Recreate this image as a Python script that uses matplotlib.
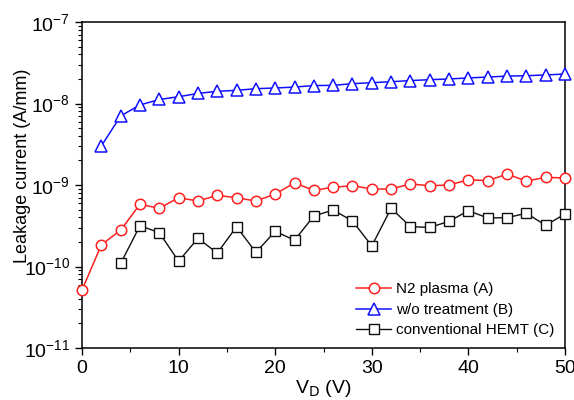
import matplotlib.pyplot as plt
import numpy as np
from matplotlib.ticker import LogLocator, MultipleLocator, NullFormatter

plt.rcParams['font.family'] = ['Liberation Sans', 'DejaVu Sans']

# N2 plasma (A), 0..50 V
vd_a = np.arange(0, 51, 2)
i_a = [5.15e-11, 1.84e-10, 2.8e-10, 5.8e-10, 5.18e-10, 6.98e-10, 6.36e-10, 7.47e-10,
       6.98e-10, 6.36e-10, 7.76e-10, 1.06e-9, 8.6e-10, 9.37e-10, 9.8e-10, 8.93e-10,
       8.93e-10, 1.03e-9, 9.8e-10, 1.0e-9, 1.16e-9, 1.13e-9, 1.36e-9, 1.12e-9,
       1.24e-9, 1.22e-9]

# w/o treatment (B), 2..50 V
vd_b = np.arange(2, 51, 2)
i_b = [3.01e-9, 7.03e-9, 9.6e-9, 1.12e-8, 1.21e-8, 1.33e-8, 1.41e-8, 1.45e-8,
       1.52e-8, 1.55e-8, 1.59e-8, 1.66e-8, 1.67e-8, 1.75e-8, 1.80e-8, 1.85e-8,
       1.91e-8, 1.96e-8, 2.0e-8, 2.06e-8, 2.11e-8, 2.17e-8, 2.19e-8, 2.24e-8, 2.30e-8]

# conventional HEMT (C), 4..50 V
vd_c = np.arange(4, 51, 2)
i_c = [1.09e-10, 3.17e-10, 2.6e-10, 1.16e-10, 2.22e-10, 1.46e-10, 3.08e-10, 1.49e-10,
       2.70e-10, 2.1e-10, 4.17e-10, 4.93e-10, 3.62e-10, 1.79e-10, 5.18e-10, 3.08e-10,
       3.02e-10, 3.58e-10, 4.84e-10, 3.94e-10, 3.97e-10, 4.5e-10, 3.2e-10, 4.41e-10]

fig = plt.figure(figsize=(5.74, 4.0), dpi=100)
ax = fig.add_axes([0.1429, 0.13, 0.8414, 0.815])

ax.plot(vd_a, i_a, '-o', color='#ff2020', mfc='white', mec='#ff2020', ms=7.5, lw=1.1,
        mew=1.1, label='N2 plasma (A)', clip_on=False, zorder=3)
ax.plot(vd_b, i_b, '-^', color='#1010ff', mfc='white', mec='#1010ff', ms=8.5, lw=1.1,
        mew=1.1, label='w/o treatment (B)', clip_on=False, zorder=3)
ax.plot(vd_c, i_c, '-s', color='#101010', mfc='white', mec='#101010', ms=7, lw=1.0,
        mew=1.0, label='conventional HEMT (C)', clip_on=False, zorder=3)

ax.set_yscale('log')
ax.set_xlim(0, 50)
ax.set_ylim(1e-11, 1e-7)
ax.xaxis.set_major_locator(MultipleLocator(10))
ax.xaxis.set_minor_locator(MultipleLocator(5))
ax.yaxis.set_major_locator(LogLocator(base=10, numticks=10))
ax.yaxis.set_minor_locator(LogLocator(base=10, subs=np.arange(2, 10), numticks=10))
ax.yaxis.set_minor_formatter(NullFormatter())
ax.tick_params(which='both', direction='out', top=False, right=False, labelsize=14)
ax.tick_params(which='major', length=5, width=1)
ax.tick_params(which='minor', length=3, width=0.8)
for s in ax.spines.values():
    s.set_linewidth(1.1)

ax.set_xlabel(r'V$_\mathrm{D}$ (V)', fontsize=14, labelpad=1)
ax.set_ylabel('Leakage current (A/mm)', fontsize=13)
ax.yaxis.set_label_coords(-0.105, 0.56)

ax.legend(loc='lower right', fontsize=11, frameon=False, handlelength=2.3,
          handletextpad=0.3, labelspacing=0.42, borderaxespad=0.3)

fig.savefig('out.png', dpi=100)
